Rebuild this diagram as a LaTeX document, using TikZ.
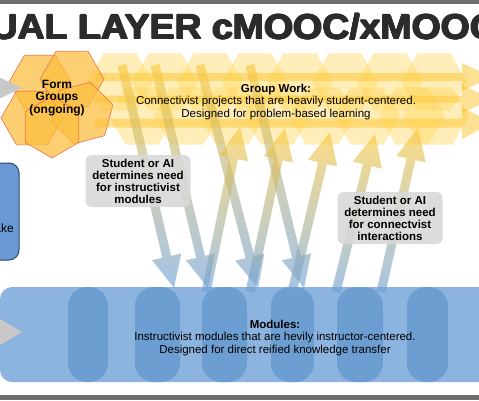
\documentclass[tikz,border=0pt]{standalone}
\usepackage{fontspec}
\setmainfont{Liberation Sans}
\usetikzlibrary{calc,shapes.geometric}
\definecolor{barGray}{HTML}{6E6E6E}
\definecolor{titleInk}{HTML}{2B2B2B}
\definecolor{hexYellow}{HTML}{FFD75A}
\definecolor{hexOrange}{HTML}{FBBF3C}
\definecolor{hexStroke}{HTML}{F2704E}
\definecolor{arrowYellow}{HTML}{FCC93A}
\definecolor{arrowBlue}{HTML}{6E9FD6}
\definecolor{bandBlue}{HTML}{8DB3DF}
\definecolor{pillBlue}{HTML}{6C9ED2}
\definecolor{boxBlue}{HTML}{6A9AD4}
\definecolor{boxStroke}{HTML}{2E4674}
\definecolor{noteGray}{HTML}{D8D8D8}
\definecolor{triGray}{HTML}{C8C8C8}
\newcommand\fatarrow[6]{%
  \coordinate (fa-h) at ($(#3)!#6!(#2)$);
  \path[#1] ($(#2)!#4!90:(#3)$) -- ($(fa-h)!#4!90:(#3)$) -- ($(fa-h)!#5!90:(#3)$) -- (#3)
    -- ($(fa-h)!#5!-90:(#3)$) -- ($(fa-h)!#4!-90:(#3)$) -- ($(#2)!#4!-90:(#3)$) -- cycle;}
\tikzset{
  bandhex/.style={regular polygon, regular polygon sides=6, minimum size=66pt, inner sep=0pt,
    fill=hexYellow, fill opacity=0.42},
  formhex/.style={regular polygon, regular polygon sides=6, minimum size=62pt, inner sep=0pt,
    fill=hexOrange, fill opacity=0.72, draw=hexStroke, draw opacity=0.9, line width=0.7pt},
  harrow/.style={fill=arrowYellow, fill opacity=0.55},
  darrow/.style={shade, top color=arrowYellow, bottom color=arrowBlue, fill opacity=0.62},
  notebox/.style={fill=noteGray, fill opacity=0.88, text opacity=1, rounded corners=6pt,
    align=center, font=\fontsize{11.5}{12}\selectfont\bfseries, minimum width=105pt,
    minimum height=52pt, inner sep=2pt},
  bodytext/.style={align=center, font=\fontsize{11.5}{12.3}\selectfont, inner sep=0pt},
  titletext/.style={anchor=base west, inner sep=0pt, text=titleInk,
    font=\fontsize{35}{35}\selectfont\bfseries, xscale=1.07},
  pill/.style={fill=pillBlue, rounded corners=19pt},
}
\begin{document}
\begin{tikzpicture}[x=1pt,y=-1pt]
\useasboundingbox (0,0) rectangle (479,400);
\clip (0,0) rectangle (479,400);
\fill[white] (0,0) rectangle (479,400);
% bars
\fill[barGray] (0,0) rectangle (479,4);
\fill[barGray] (0,395) rectangle (479,400);
% title (drawn with small offsets for a heavier weight)
\foreach \dx/\dy [count=\k] in {0/0,0.6/0,-0.6/0,0/0.6,0/-0.6,0.4/0.4,-0.4/-0.4}
  \node[titletext] (title\k) at ({-9+\dx},{39+\dy}) {UAL LAYER cMOOC/xMOOC};
% yellow hexagon band
\foreach \x [count=\i] in {120,165,210,255,300,345,390,434}
  \node[bandhex] (bt\i) at (\x,82) {};
\foreach \x [count=\i] in {142,187,232,277,322,367,412,436}
  \node[bandhex] (bb\i) at (\x,116) {};
% horizontal arrows
\coordinate (h1a) at (95,77);  \coordinate (h1b) at (492,77);
\coordinate (h2a) at (95,99); \coordinate (h2b) at (492,99);
\coordinate (h3a) at (95,123); \coordinate (h3b) at (492,123);
\fatarrow{harrow}{h1a}{h1b}{4pt}{14pt}{30pt}
\fatarrow{harrow}{h2a}{h2b}{3.5pt}{14pt}{30pt}
\fatarrow{harrow}{h3a}{h3b}{4.5pt}{16pt}{30pt}
% form group hexagons
\node[formhex] (fg1) at (40,82) {};
\node[formhex, minimum size=64pt] (fg2) at (72,79) {};
\node[formhex] (fg3) at (32,118) {};
\node[formhex, minimum size=64pt, shape border rotate=15] (fg4) at (82,113) {};
\node[formhex, shape border rotate=30] (fg5) at (52,127) {};
% gray triangle top left
\fill[triGray] (-10,73) -- (22,88) -- (-10,103) -- cycle;
% modules band
\fill[bandBlue, rounded corners=12pt] (0,287) rectangle (520,382);
\fill[pill] (68,287) rectangle (108,382);
\fill[pill] (135,287) rectangle (180,382);
\fill[pill] (202,287) rectangle (247,382);
\fill[pill] (271,287) rectangle (314,382);
\fill[pill] (337,287) rectangle (383,382);
\fill[pill] (407,287) rectangle (448,382);
\fill[triGray] (-10,313) -- (22,332) -- (-10,351) -- cycle;
% diagonal down arrows
\coordinate (d1a) at (122,65);  \coordinate (d1b) at (174,288);
\coordinate (d2a) at (155,65);  \coordinate (d2b) at (208,288);
\coordinate (d3a) at (200,65);  \coordinate (d3b) at (258,288);
\coordinate (d4a) at (250,65);  \coordinate (d4b) at (304,288);
\fatarrow{darrow}{d1a}{d1b}{4.5pt}{15pt}{32pt}
\fatarrow{darrow}{d2a}{d2b}{4.5pt}{15pt}{32pt}
\fatarrow{darrow}{d3a}{d3b}{4.5pt}{15pt}{32pt}
\fatarrow{darrow}{d4a}{d4b}{4.5pt}{15pt}{32pt}
% diagonal up arrows
\coordinate (u1a) at (206,292); \coordinate (u1b) at (240,127);
\coordinate (u2a) at (250,292); \coordinate (u2b) at (285,128);
\coordinate (u3a) at (292,292); \coordinate (u3b) at (330,132);
\coordinate (u4a) at (336,292); \coordinate (u4b) at (375,134);
\coordinate (u5a) at (381,292); \coordinate (u5b) at (418,128);
\fatarrow{darrow}{u1a}{u1b}{4.5pt}{15pt}{32pt}
\fatarrow{darrow}{u2a}{u2b}{4.5pt}{15pt}{32pt}
\fatarrow{darrow}{u3a}{u3b}{4.5pt}{15pt}{32pt}
\fatarrow{darrow}{u4a}{u4b}{4.5pt}{15pt}{32pt}
\fatarrow{darrow}{u5a}{u5b}{4.5pt}{15pt}{32pt}
% notes
\node[notebox] (needInstr) at (138,181) {Student or AI\\determines need\\for instructivist\\modules};
\node[notebox] (needConn) at (390,218) {Student or AI\\determines need\\for connectvist\\interactions};
% left blue box
\draw[fill=boxBlue, draw=boxStroke, line width=1pt, rounded corners=10pt] (-30,163) rectangle (19,260);
\node[anchor=east, inner sep=0pt, font=\fontsize{12}{12}\selectfont] (intake) at (14,228) {Intake};
% texts
\node[bodytext] (groupwork) at (276,102) {\textbf{Group Work:}\\Connectivist projects that are heavily student-centered.\\Designed for problem-based learning};
\node[bodytext] (modules) at (275,338) {\textbf{Modules:}\\Instructivist modules that are hevily instructor-centered.\\Designed for direct reified knowledge transfer};
\node[align=center, inner sep=0pt, font=\fontsize{12}{12.5}\selectfont\bfseries] (formgroups) at (57,98) {Form\\Groups\\(ongoing)};
\end{tikzpicture}
\end{document}
